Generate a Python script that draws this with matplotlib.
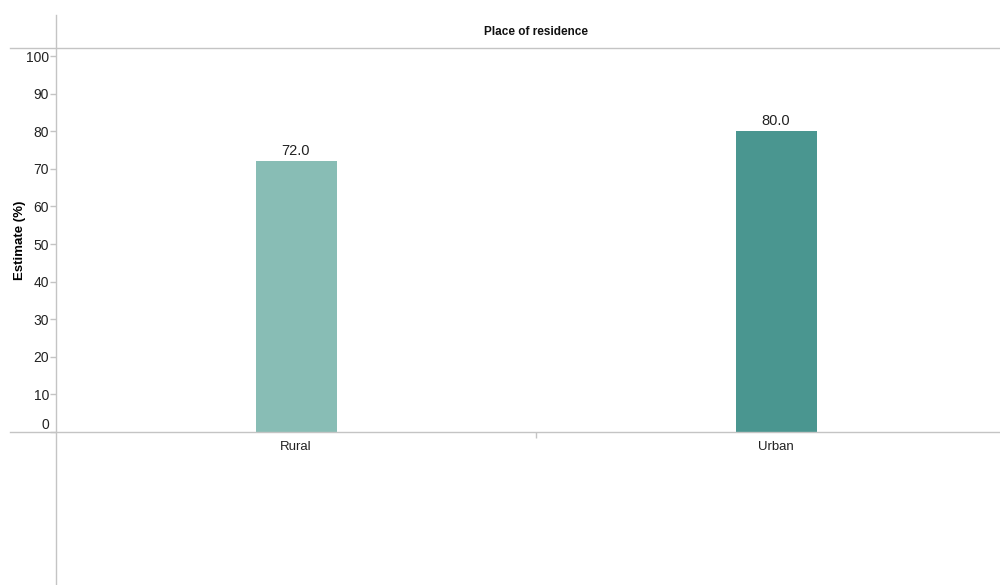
import matplotlib

matplotlib.use("Agg")

import matplotlib.pyplot as plt
from matplotlib.lines import Line2D

categories = ["Rural", "Urban"]
values = [72.0, 80.0]
bar_colors = ["#88bdb5", "#4a9690"]
y_ticks = [0, 10, 20, 30, 40, 50, 60, 70, 80, 90, 100]

plt.rcParams["font.family"] = ["Liberation Sans", "DejaVu Sans"]

W, H = 1000, 585
fig = plt.figure(figsize=(W / 100, H / 100), dpi=100)

# axes spans x 56..1000 px, y 48..432 px
left, right, top, bottom = 56, 1000, 48, 432
ax = fig.add_axes([left / W, 1 - bottom / H, (right - left) / W, (bottom - top) / H])

band = 480.0  # px per category band
xmax = (right - left) / band
ax.set_xlim(0, xmax)
px_per_unit = (bottom - 56) / 100.0
ax.set_ylim(0, 100 + (56 - top) / px_per_unit)

grey = "#c4c4c4"
pos = [i + 0.5 for i in range(len(categories))]
ax.bar(pos, values, width=81 / band, color=bar_colors)
for x, v in zip(pos, values):
    ax.text(x, v + 0.8, f"{v:.1f}", ha="center", va="bottom", fontsize=10.5, color="#222222")

for s in ax.spines.values():
    s.set_visible(False)

ax.set_yticks(y_ticks)
ax.set_yticklabels([str(t) for t in y_ticks], fontsize=10, color="#222222")
ax.tick_params(axis="y", length=4, color=grey, width=1, pad=1)
for lab in ax.get_yticklabels():
    if lab.get_text() == "0":
        lab.set_verticalalignment("bottom")
ax.set_xticks([1.0])
ax.set_xticklabels([""])
ax.tick_params(axis="x", length=4, color=grey, width=1)
for x, c in zip(pos, categories):
    ax.text(x, -2.3, c, ha="center", va="top", fontsize=9.5, color="#222222")

ax.set_ylabel("Estimate (%)", fontsize=9.5, fontweight="bold")
ax.yaxis.set_label_coords(-30 / (right - left), 0.5)

# frame lines
fig.add_artist(Line2D([10 / W, 1], [1 - top / H] * 2, color=grey, lw=1))
fig.add_artist(Line2D([10 / W, 1], [1 - bottom / H] * 2, color=grey, lw=1))
fig.add_artist(Line2D([left / W] * 2, [0, 1 - 15 / H], color=grey, lw=1))

fig.text(536 / W, 1 - 32 / H, "Place of residence", ha="center", va="center",
         fontsize=8.5, fontweight="bold", color="#111111")

fig.savefig("out.png", dpi=100)
